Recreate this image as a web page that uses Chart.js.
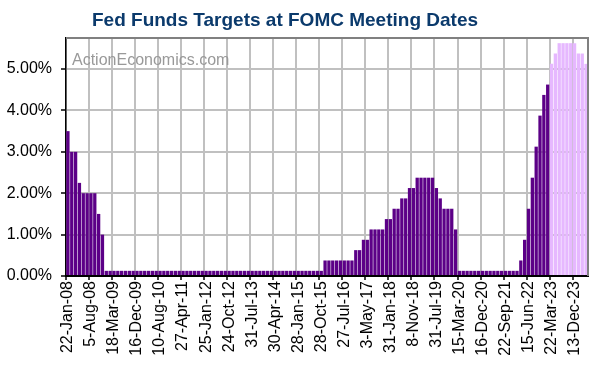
<!DOCTYPE html>
<html>
<head>
<meta charset="utf-8">
<script src="https://cdn.jsdelivr.net/npm/chart.js@4"></script>
<style>
  body { margin: 0; background: #fff; }
  #wrap { width: 602px; height: 369px; }
</style>
</head>
<body>
<div id="wrap"><canvas id="grafico" width="602" height="369"></canvas></div>
<script>
// ========================================================================================
// ==================================== DATA ==============================================
// ========================================================================================

const meetingDates = [
  "22-Jan-08", "30-Jan-08", "11-Mar-08", "18-Mar-08", "30-Apr-08", "25-Jun-08", "5-Aug-08", "16-Sep-08", "8-Oct-08", "29-Oct-08", "16-Dec-08",
  "28-Jan-09", "18-Mar-09", "29-Apr-09", "24-Jun-09", "12-Aug-09", "23-Sep-09", "4-Nov-09", "16-Dec-09",
  "27-Jan-10", "16-Mar-10", "28-Apr-10", "9-May-10", "23-Jun-10", "10-Aug-10", "21-Sep-10", "3-Nov-10", "14-Dec-10",
  "26-Jan-11", "15-Mar-11", "27-Apr-11", "22-Jun-11", "9-Aug-11", "21-Sep-11", "2-Nov-11", "13-Dec-11",
  "25-Jan-12", "13-Mar-12", "25-Apr-12", "20-Jun-12", "1-Aug-12", "13-Sep-12", "24-Oct-12", "12-Dec-12",
  "30-Jan-13", "20-Mar-13", "1-May-13", "19-Jun-13", "31-Jul-13", "18-Sep-13", "30-Oct-13", "18-Dec-13",
  "29-Jan-14", "19-Mar-14", "30-Apr-14", "18-Jun-14", "30-Jul-14", "17-Sep-14", "29-Oct-14", "17-Dec-14",
  "28-Jan-15", "18-Mar-15", "29-Apr-15", "17-Jun-15", "29-Jul-15", "17-Sep-15", "28-Oct-15", "16-Dec-15",
  "27-Jan-16", "16-Mar-16", "27-Apr-16", "15-Jun-16", "27-Jul-16", "21-Sep-16", "2-Nov-16", "14-Dec-16",
  "1-Feb-17", "15-Mar-17", "3-May-17", "14-Jun-17", "26-Jul-17", "20-Sep-17", "1-Nov-17", "13-Dec-17",
  "31-Jan-18", "21-Mar-18", "2-May-18", "13-Jun-18", "1-Aug-18", "26-Sep-18", "8-Nov-18", "19-Dec-18",
  "30-Jan-19", "20-Mar-19", "1-May-19", "19-Jun-19", "31-Jul-19", "18-Sep-19", "30-Oct-19", "11-Dec-19",
  "29-Jan-20", "3-Mar-20", "15-Mar-20", "29-Apr-20", "10-Jun-20", "29-Jul-20", "16-Sep-20", "5-Nov-20", "16-Dec-20",
  "27-Jan-21", "17-Mar-21", "28-Apr-21", "16-Jun-21", "28-Jul-21", "22-Sep-21", "3-Nov-21", "15-Dec-21",
  "26-Jan-22", "16-Mar-22", "4-May-22", "15-Jun-22", "27-Jul-22", "21-Sep-22", "2-Nov-22", "14-Dec-22",
  "1-Feb-23", "22-Mar-23", "3-May-23", "14-Jun-23", "26-Jul-23", "20-Sep-23", "1-Nov-23", "13-Dec-23",
  "31-Jan-24", "20-Mar-24", "1-May-24",
];

// target (mid-point of range after Dec-08), percent
const actualRates = [
  3.5, 3.0, 3.0, 2.25, 2.0, 2.0, 2.0, 2.0, 1.5, 1.0, 0.125,
  0.125, 0.125, 0.125, 0.125, 0.125, 0.125, 0.125, 0.125,
  0.125, 0.125, 0.125, 0.125, 0.125, 0.125, 0.125, 0.125, 0.125,
  0.125, 0.125, 0.125, 0.125, 0.125, 0.125, 0.125, 0.125,
  0.125, 0.125, 0.125, 0.125, 0.125, 0.125, 0.125, 0.125,
  0.125, 0.125, 0.125, 0.125, 0.125, 0.125, 0.125, 0.125,
  0.125, 0.125, 0.125, 0.125, 0.125, 0.125, 0.125, 0.125,
  0.125, 0.125, 0.125, 0.125, 0.125, 0.125, 0.125, 0.375,
  0.375, 0.375, 0.375, 0.375, 0.375, 0.375, 0.375, 0.625,
  0.625, 0.875, 0.875, 1.125, 1.125, 1.125, 1.125, 1.375,
  1.375, 1.625, 1.625, 1.875, 1.875, 2.125, 2.125, 2.375,
  2.375, 2.375, 2.375, 2.375, 2.125, 1.875, 1.625, 1.625,
  1.625, 1.125, 0.125, 0.125, 0.125, 0.125, 0.125, 0.125, 0.125,
  0.125, 0.125, 0.125, 0.125, 0.125, 0.125, 0.125, 0.125,
  0.125, 0.375, 0.875, 1.625, 2.375, 3.125, 3.875, 4.375,
  4.625,
];

// expected path from 22-Mar-23 on
const projectedRates = [5.125, 5.375, 5.625, 5.625, 5.625, 5.625, 5.625, 5.375, 5.375, 5.125];

const yTicks = [0, 1, 2, 3, 4, 5];

// ========================================================================================
// ==================================== GRAFICO ===========================================
// ========================================================================================

const FONT = "'Liberation Sans', Arial, sans-serif";
const DARK = "#5c0087";
const LIGHT = "#e6b8ff";
const TITLE = "Fed Funds Targets at FOMC Meeting Dates";

const allRates = actualRates.concat(projectedRates);
const barColors = allRates.map((v, i) => (i < actualRates.length ? DARK : LIGHT));

// title, watermark + grey frame on top/right
const extras = {
  id: "extras",
  beforeDatasetsDraw(chart) {
    const { ctx, chartArea } = chart;
    ctx.save();
    ctx.font = "bold 19px " + FONT;
    ctx.fillStyle = "#0b3a6c";
    ctx.textAlign = "center";
    ctx.textBaseline = "alphabetic";
    ctx.fillText(TITLE, 285, 26);
    ctx.font = "16px " + FONT;
    ctx.fillStyle = "#999999";
    ctx.textAlign = "left";
    ctx.fillText("ActionEconomics.com", chartArea.left + 6, 65);
    ctx.restore();
  },
  afterDatasetsDraw(chart) {
    const { ctx, chartArea } = chart;
    ctx.save();
    ctx.strokeStyle = "#808080";
    ctx.lineWidth = 2;
    ctx.beginPath();
    ctx.moveTo(chartArea.left, chartArea.top);
    ctx.lineTo(chartArea.right, chartArea.top);
    ctx.lineTo(chartArea.right, chartArea.bottom);
    ctx.stroke();
    ctx.restore();
  },
};

const data = {
  labels: meetingDates,
  datasets: [
    {
      label: "Fed Funds Target",
      data: allRates,
      backgroundColor: barColors,
      borderWidth: 0,
      barPercentage: 0.86,
      categoryPercentage: 1.0,
    },
  ],
};

const config = {
  type: "bar",
  data: data,
  plugins: [extras],
  options: {
    responsive: false,
    animation: false,
    layout: { padding: { left: 0, right: 14, top: 38, bottom: 0 } },
    plugins: {
      legend: { display: false },
      tooltip: { enabled: false },
      title: { display: false },
    },
    scales: {
      x: {
        offset: true,
        grid: {
          offset: true,
          color: (c) => (c.index % 6 === 0 ? "#c0c0c0" : "rgba(0,0,0,0)"),
          tickColor: (c) => (c.index % 6 === 0 ? "#000" : "rgba(0,0,0,0)"),
          lineWidth: 2,
          tickWidth: 1.5,
          tickLength: 4,
        },
        border: { display: true, color: "#000", width: 2 },
        ticks: {
          autoSkip: false,
          maxRotation: 90,
          minRotation: 90,
          padding: 1,
          color: "#000",
          font: { family: FONT, size: 16 },
          callback: (v, i) => (i % 6 === 0 ? meetingDates[i] : ""),
        },
        afterFit: (s) => {
          s.height = 93;
          s.paddingLeft = 0;
          s.paddingRight = 0;
        },
      },
      y: {
        min: 0,
        max: 5.75,
        grid: { color: "#c0c0c0", lineWidth: 2, tickColor: "#000", tickWidth: 1.5, tickLength: 5 },
        border: { display: true, color: "#000", width: 1.5 },
        ticks: {
          stepSize: 1,
          padding: 9,
          color: "#000",
          font: { family: FONT, size: 16 },
          callback: (v) => v.toFixed(2) + "%",
        },
        afterBuildTicks: (s) => { s.ticks = yTicks.map((v) => ({ value: v })); },
        afterFit: (s) => {
          s.width = 66;
          s.paddingTop = 0;
          s.paddingBottom = 0;
        },
      },
    },
  },
};

const grafico = new Chart(document.getElementById("grafico"), config);
</script>
</body>
</html>
